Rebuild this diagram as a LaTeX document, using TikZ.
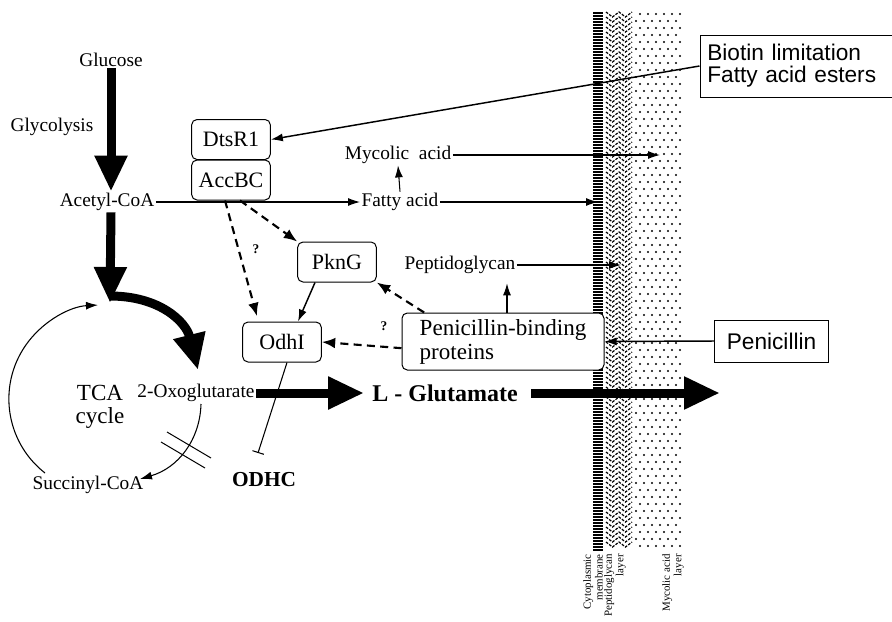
\documentclass[tikz,border=0pt]{standalone}
\usepackage{fontspec}
\setmainfont{Liberation Serif}
\setsansfont{Liberation Sans}
\usepackage{tikz}
\usetikzlibrary{arrows.meta,positioning,calc}
\tikzset{
  box/.style={draw,fill=white,rounded corners=4pt,line width=0.75pt,align=center,inner sep=2pt,minimum width=59pt,minimum height=30pt,font=\fontsize{16.5}{18}\selectfont},
  boxs/.style={draw,fill=white,line width=0.75pt,align=left,inner sep=2pt,font=\sffamily\fontsize{17}{16.5}\selectfont},
  lbl/.style={font=\fontsize{14.5}{16}\selectfont,inner sep=1pt},
  head/.style={font=\bfseries\fontsize{18}{20}\selectfont,inner sep=1pt},
  arr/.style={-{Latex[length=9pt,width=6pt]},line width=0.8pt},
  arrd/.style={-{Latex[length=10pt,width=8pt]},line width=1.6pt,dash pattern=on 6pt off 4pt},
  arrk/.style={-{Triangle[length=27pt,width=23pt]},line width=6.75pt},
  qm/.style={font=\bfseries\fontsize{10}{12}\selectfont,inner sep=0pt},
  layer/.style={font=\fontsize{8.2}{8.8}\selectfont,rotate=90,anchor=east,align=right,inner sep=0pt},
}

\begin{document}
\begin{tikzpicture}[x=0.75pt,y=-0.75pt]
\useasboundingbox (0,0) rectangle (892,621);
% cell envelope: membrane, peptidoglycan, mycolic acid layer
\foreach \y in {13,16,...,550} \draw[line width=1.1pt] (593,\y) -- (603,\y);
\foreach \y in {12,17,...,546} \draw[line width=0.9pt,dash pattern=on 2pt off 1pt] (606,\y) -- (612.5,\y+5) -- (619,\y) -- (625.5,\y+5) -- (632,\y);
\foreach \y [count=\i] in {14,21,...,550} { \pgfmathsetmacro\dx{mod(\i,2)*4} \foreach \x in {636,644,...,676} \fill (\x+\dx,\y) circle[radius=0.85pt]; }
\node[layer] (lcm) at (593,554) {Cytoplasmic\\membrane};
\node[layer] (lpg) at (615,554) {Peptidoglycan\\layer};
\node[layer] (lma) at (673,554) {Mycolic acid\\layer};
% metabolites and proteins
\node[lbl] (glc) at (111,60) {Glucose};
\node[lbl] (gly) at (52,127) {Glycolysis};
\node[lbl] (acoa) at (107,202) {Acetyl-CoA};
\node[box] (dts) at (231,139.5) {DtsR1};
\node[box] (acc) at (231,180) {AccBC};
\node[lbl] (myc) at (398,155) {Mycolic\ \ acid};
\node[lbl] (fa) at (400,202) {Fatty acid};
\node[box] (pkng) at (337,262) {PknG};
\node[lbl] (pg) at (460,265) {Peptidoglycan};
\node[box] (odhi) at (282,342) {OdhI};
\node[box,align=left,minimum width=151.5pt,minimum height=42.75pt,font=\fontsize{17.3}{18}\selectfont] (pbp) at (503,341.5) {Penicillin-binding\\proteins};
\node[boxs,minimum width=85pt,minimum height=31.5pt] (pen) at (771.5,341) {Penicillin};
\node[boxs,minimum width=144pt,minimum height=46.5pt,text width=133pt] (bio) at (796,66) {Biotin limitation\\Fatty acid esters};
\node[lbl] (oxo) at (196,393) {2-Oxoglutarate};
\node[head] (glu) at (445,393) {L - Glutamate};
\node[font=\fontsize{17.3}{17.5}\selectfont,align=center,inner sep=0pt] (tca) at (100,407) {TCA\\cycle};
\node[lbl] (suc) at (88,485) {Succinyl-CoA};
\node[head,font=\bfseries\fontsize{16}{18}\selectfont] (odhc) at (264,480) {ODHC};
\node[qm] (q1) at (256,249) {?};
\node[qm] (q2) at (384,326) {?};
\coordinate (tcain) at (110,303);
\coordinate (oxoin) at (198,370);
\coordinate (c1) at (45,473);
\coordinate (c2) at (201,404);
\coordinate (c3) at (140,479);
\coordinate (mycl) at (660,155);
\coordinate (cmem) at (598,202);
\coordinate (pgl) at (621,265);
\coordinate (odhcbar) at (258,453);
\coordinate (gluout) at (720,393);
% main flux
\draw[arrk] (glc.south) -- (glc.south |- acoa.north);
\draw[arrk] (acoa.south -| glc.south) -- (tcain);
\draw[arrk] (110,296) .. controls (160,296) and (186,322) .. (oxoin);
\draw[arrk,shorten >=5pt] (oxo.east) -- (glu.west);
\draw[arrk,shorten <=9pt] (glu.east) -- (gluout);
% TCA cycle
\draw[arr] (c1) arc[start angle=232,end angle=93,radius=70.5pt];
\draw[arr] (c2) .. controls (200,440) and (178,468) .. (c3);
\draw[line width=0.75pt] (167,432) -- (211,458);
\draw[line width=0.75pt] (161,442) -- (205,468);
% lipid and cell wall synthesis
\draw[arr] (acoa.east) -- (fa.west);
\draw[arr] (fa.north) -- (myc.south);
\draw[arr] (myc.east) -- (mycl);
\draw[arr] (fa.east) -- (cmem);
\draw[arr] (pg.east) -- (pgl);
\draw[arr,shorten >=6pt] ([xshift=3pt]pbp.north) -- ([xshift=3pt]pbp.north |- pg.south);
\draw[arr,line width=1.1pt] (pen.west) -- (pbp.east);
\draw[arr,line width=1.1pt] (bio.west) -- (dts.east);
% regulation
\draw[arrd] ([xshift=-4.5pt]acc.south) -- ([xshift=-18.75pt,yshift=4pt]odhi.north);
\draw[arrd] ([xshift=6.75pt]acc.south) -- (pkng.north west);
\draw[arrd] ([xshift=17pt]pbp.north west) -- (pkng.south east);
\draw[arrd] ([yshift=-5pt]pbp.west) -- (odhi.east);
\draw[arr,line width=1.1pt] ([xshift=-16.5pt]pkng.south) -- ([xshift=12pt]odhi.north);
\draw[-{Bar[width=9pt]},line width=0.8pt] ([xshift=3.75pt]odhi.south) -- (odhcbar);
\end{tikzpicture}
\end{document}
